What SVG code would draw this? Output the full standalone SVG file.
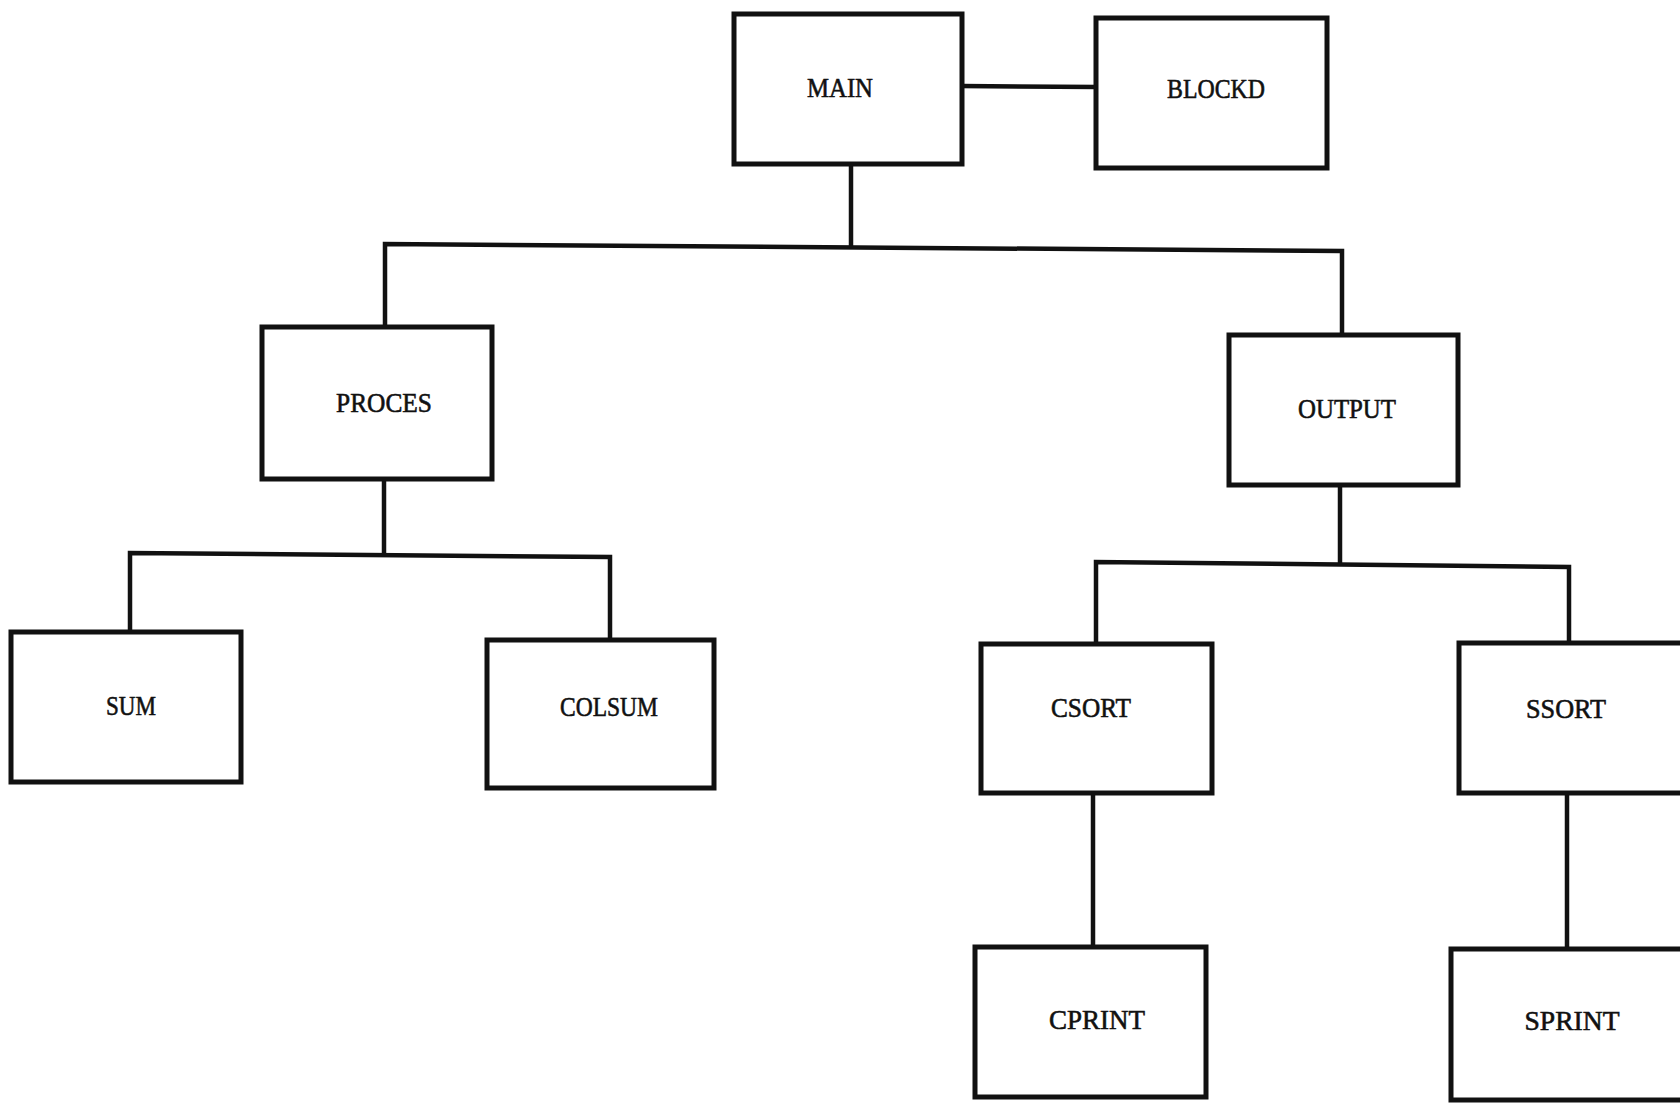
<svg xmlns="http://www.w3.org/2000/svg" width="1680" height="1104" viewBox="0 0 1680 1104">
<style>
.box{fill:#fff;stroke:#111;stroke-width:5;stroke-linejoin:miter}
.lbl{font-family:"Liberation Serif","Times New Roman",serif;font-size:28px;fill:#111;text-anchor:middle;dominant-baseline:central;stroke:#111;stroke-width:0.6}
.ln{fill:none;stroke:#111;stroke-width:4.5;stroke-linecap:square}
</style>
<rect width="1680" height="1104" fill="#fff"/>
<g id="connectors">
<path class="ln" d="M962 86 L1096 87"/>
<path class="ln" d="M851 164 L851 244"/>
<path class="ln" d="M385 327 L385 244 L1342 251 L1342 335"/>
<path class="ln" d="M384 479 L384 553"/>
<path class="ln" d="M130 632 L130 553 L610 557 L610 640"/>
<path class="ln" d="M1340 485 L1340 562"/>
<path class="ln" d="M1096 644 L1096 562 L1569 567 L1569 643"/>
<path class="ln" d="M1093 793 L1093 947"/>
<path class="ln" d="M1567 793 L1567 950"/>
</g>
<g id="MAIN"><rect class="box" x="734" y="14" width="228" height="150"/><text class="lbl" x="840" y="87" textLength="66" lengthAdjust="spacingAndGlyphs">MAIN</text></g>
<g id="BLOCKD"><rect class="box" x="1096" y="18" width="231" height="150"/><text class="lbl" x="1216" y="88" textLength="98" lengthAdjust="spacingAndGlyphs">BLOCKD</text></g>
<g id="PROCES"><rect class="box" x="262" y="327" width="230" height="152"/><text class="lbl" x="384" y="402" textLength="96" lengthAdjust="spacingAndGlyphs">PROCES</text></g>
<g id="OUTPUT"><rect class="box" x="1229" y="335" width="229" height="150"/><text class="lbl" x="1347" y="408" textLength="98" lengthAdjust="spacingAndGlyphs">OUTPUT</text></g>
<g id="SUM"><rect class="box" x="11" y="632" width="230" height="150"/><text class="lbl" x="131" y="705" textLength="50" lengthAdjust="spacingAndGlyphs">SUM</text></g>
<g id="COLSUM"><rect class="box" x="487" y="640" width="227" height="148"/><text class="lbl" x="609" y="706" textLength="98" lengthAdjust="spacingAndGlyphs">COLSUM</text></g>
<g id="CSORT"><rect class="box" x="981" y="644" width="231" height="149"/><text class="lbl" x="1091" y="707" textLength="80" lengthAdjust="spacingAndGlyphs">CSORT</text></g>
<g id="SSORT"><rect class="box" x="1459" y="643" width="240" height="150"/><text class="lbl" x="1566" y="708" textLength="80" lengthAdjust="spacingAndGlyphs">SSORT</text></g>
<g id="CPRINT"><rect class="box" x="975" y="947" width="231" height="150"/><text class="lbl" x="1097" y="1019" textLength="96" lengthAdjust="spacingAndGlyphs">CPRINT</text></g>
<g id="SPRINT"><rect class="box" x="1451" y="949" width="240" height="151"/><text class="lbl" x="1572" y="1020" textLength="95" lengthAdjust="spacingAndGlyphs">SPRINT</text></g>
</svg>
